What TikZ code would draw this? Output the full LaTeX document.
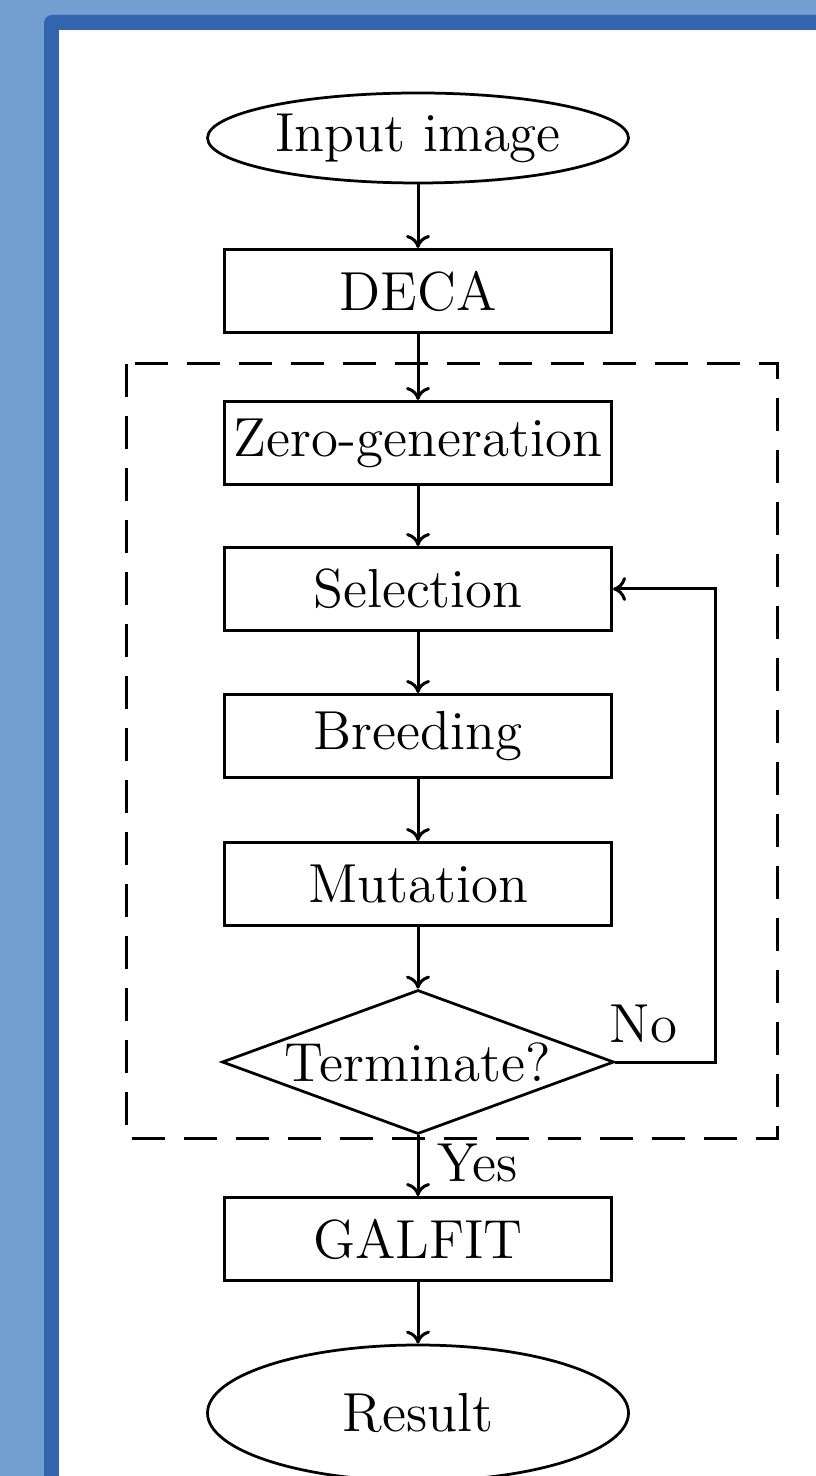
\documentclass[tikz,border=0pt]{standalone}
\usetikzlibrary{shapes.geometric,arrows.meta}
\definecolor{bglight}{RGB}{114,159,207}
\definecolor{bgdark}{RGB}{51,101,175}
\begin{document}
\begin{tikzpicture}[x=0.2pt,y=-0.2pt,
  txt/.style={font=\fontsize{11}{13}\selectfont},
  terminal/.style={txt,ellipse,draw,line width=0.55pt,inner sep=0pt,minimum width=84.2pt},
  stepbox/.style={txt,rectangle,draw,line width=0.6pt,inner sep=0pt,minimum width=77.4pt,minimum height=16.6pt},
  decision/.style={txt,diamond,draw,line width=0.55pt,inner sep=0pt,minimum width=78.4pt,minimum height=28.8pt},
  arrow/.style={line width=0.6pt,-{To[length=2.6pt,width=4.8pt]}},
  lbl/.style={txt,inner sep=3.5pt}]
\useasboundingbox (0,0) rectangle (815,1476);
% frame
\fill[bglight] (-20,-20) rectangle (900,1550);
\fill[bgdark,rounded corners=1.6pt] (44,15) rectangle (900,1550);
\fill[white] (59,30) rectangle (900,1550);
% group frame
\draw[line width=0.6pt,dash pattern=on 6.6pt off 3.8pt] (126,364) rectangle (777,1138);
% nodes
\node[terminal,minimum height=18pt] (input) at (418,138) {Input image};
\node[stepbox] (deca) at (418,291) {DECA};
\node[stepbox] (zero) at (418,443) {Zero-generation};
\node[stepbox] (sel) at (418,589) {Selection};
\node[stepbox] (breed) at (418,736) {Breeding};
\node[stepbox] (mut) at (418,884) {Mutation};
\node[decision] (term) at (418,1062) {\makebox[0pt]{Terminate?}};
\node[stepbox] (galfit) at (418,1239) {GALFIT};
\node[terminal,minimum height=27.2pt] (result) at (418,1413) {Result};
% connectors
\draw[arrow] (input) -- (deca);
\draw[arrow] (deca) -- (zero);
\draw[arrow] (zero) -- (sel);
\draw[arrow] (sel) -- (breed);
\draw[arrow] (breed) -- (mut);
\draw[arrow] (mut) -- (term);
\draw[arrow] (term.south) -- node[lbl,right,pos=0.45] {Yes} (galfit.north);
\draw[arrow] (galfit) -- (result);
\draw[arrow] (term.east) -- node[lbl,above,pos=0.28] {No} ++(100,0) |- (sel.east);
\end{tikzpicture}
\end{document}
